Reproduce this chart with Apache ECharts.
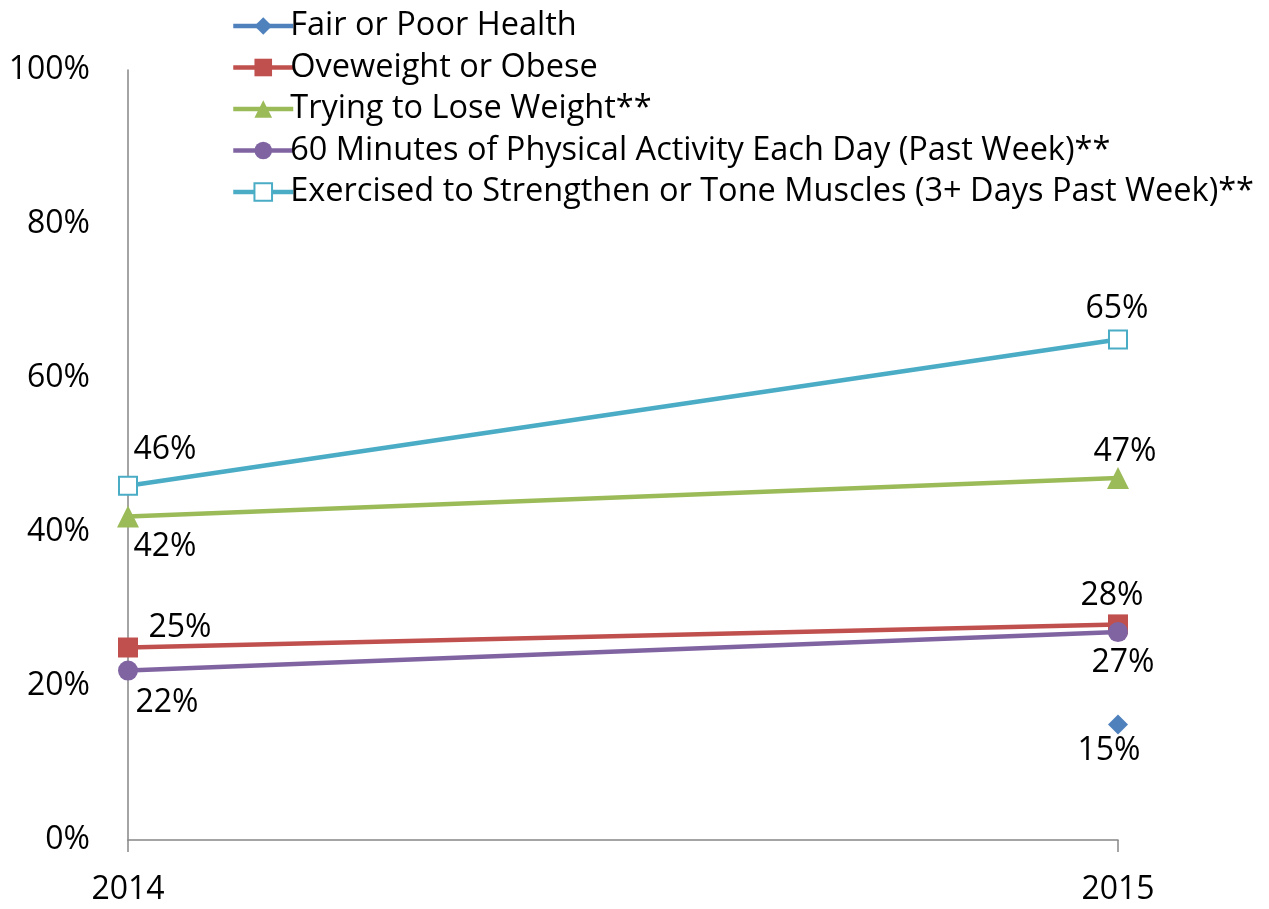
<!DOCTYPE html>
<html>
<head>
<meta charset="utf-8">
<script src="https://cdn.jsdelivr.net/npm/echarts@6/dist/echarts.min.js"></script>
<style>
html,body{margin:0;padding:0;background:#fff;}
#chart{width:1269px;height:909px;}
</style>
</head>
<body>
<div id="chart"></div>
<script>
const categories = ['2014', '2015'];
const seriesNames = [
  'Fair or Poor Health',
  'Oveweight or Obese',
  'Trying to Lose Weight**',
  '60 Minutes of Physical Activity Each Day (Past Week)**',
  'Exercised to Strengthen or Tone Muscles (3+ Days Past Week)**'
];
const fairPoorHealth = [null, 15];
const overweightObese = [25, 28];
const tryingToLoseWeight = [42, 47];
const physicalActivity60 = [22, 27];
const strengthenMuscles = [46, 65];
const yTicks = [0, 20, 40, 60, 80, 100];

const FONT = '"Open Sans", "Liberation Sans", sans-serif';
const FS = 32;
const styles = [
  {color:'#4F81BD', symbol:'diamond', size:20, offsets:[[0,0],[-9,26]]},
  {color:'#C0504D', symbol:'rect', size:20, offsets:[[52,-20],[-6,-29]]},
  {color:'#9BBB59', symbol:'triangle', size:22, offsets:[[37,30],[7,-26]]},
  {color:'#8064A2', symbol:'circle', size:20, offsets:[[39,32],[5,31]]},
  {color:'#4BACC6', symbol:'rect', size:18, hollow:true, offsets:[[37,-36],[-1,-31]]}
];
const values = [fairPoorHealth, overweightObese, tryingToLoseWeight, physicalActivity60, strengthenMuscles];

const series = values.map((arr, i) => {
  const s = styles[i];
  return {
    name: seriesNames[i],
    type: 'line',
    data: arr.map((v, j) => ({
      value: v,
      label: {offset: s.offsets[j]}
    })),
    symbol: s.symbol,
    symbolSize: s.size,
    lineStyle: {color: s.color, width: 4.5},
    itemStyle: s.hollow ? {color:'#fff', borderColor:s.color, borderWidth:2} : {color:s.color, borderWidth:0},
    label: {
      show: true,
      position: 'inside',
      formatter: p => p.value + '%',
      color: '#000',
      fontSize: FS,
      fontFamily: FONT
    },
    emphasis: {disabled: true},
    animation: false,
    z: 2 + i
  };
});

const chart = echarts.init(document.getElementById('chart'));
chart.setOption({
  backgroundColor: '#fff',
  animation: false,
  grid: {left: 128, right: 151, top: 70, bottom: 69, containLabel: false},
  legend: {
    orient: 'vertical',
    left: 226,
    top: 4,
    itemWidth: 60,
    itemHeight: 22,
    itemGap: 7.5,
    lineStyle: {width: 4.5},
    textStyle: {fontSize: 32.5, fontFamily: FONT, color: '#000', lineHeight: 34, padding:[0,0,0,-8]},
    data: seriesNames
  },
  xAxis: {
    type: 'category',
    data: categories,
    boundaryGap: false,
    axisLine: {show: true, lineStyle: {color: '#868686', width: 1.5}},
    axisTick: {show: true, length: 12, lineStyle: {color: '#868686', width: 1.5}},
    axisLabel: {fontSize: FS, fontFamily: FONT, color: '#000', margin: 34},
    splitLine: {show: false}
  },
  yAxis: {
    type: 'value',
    min: yTicks[0],
    max: yTicks[yTicks.length - 1],
    interval: yTicks[1] - yTicks[0],
    axisLine: {show: true, lineStyle: {color: '#868686', width: 1.5}},
    axisTick: {show: false},
    axisLabel: {fontSize: FS, fontFamily: FONT, color: '#000', margin: 38, formatter: '{value}%'},
    splitLine: {show: false}
  },
  series: series
});
</script>
</body>
</html>
